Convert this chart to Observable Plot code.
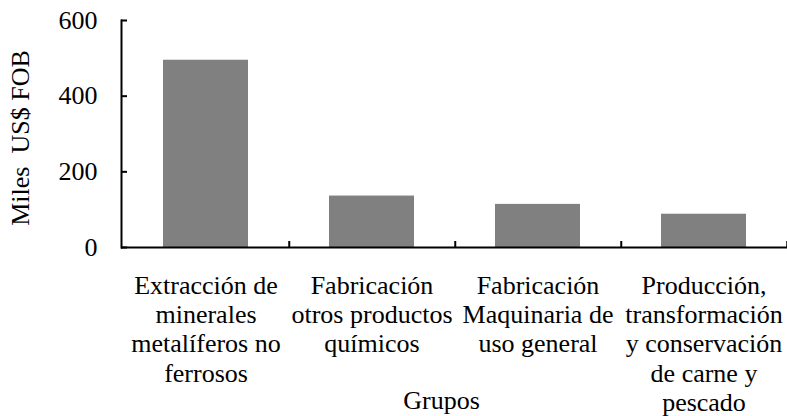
<!DOCTYPE html>
<html>
<head>
<meta charset="utf-8">
<script src="https://cdn.jsdelivr.net/npm/d3@7"></script>
<script src="https://cdn.jsdelivr.net/npm/@observablehq/plot@0.6"></script>
<style>
  html, body { margin: 0; padding: 0; background: #fff; overflow: hidden; }
</style>
</head>
<body>
<div id="chart"></div>
<script>
const categories = [
  "Extracción de minerales metalíferos no ferrosos",
  "Fabricación otros productos químicos",
  "Fabricación Maquinaria de uso general",
  "Producción, transformación y conservación de carne y pescado"
];
const tickLabels = [
  "Extracción de\nminerales\nmetalíferos no\nferrosos",
  "Fabricación\notros productos\nquímicos",
  "Fabricación\nMaquinaria de\nuso general",
  "Producción,\ntransformación\ny conservación\nde carne y\npescado"
];
const values = [495, 136, 114, 88];
const yTicks = [0, 200, 400, 600];
const yTitle = "Miles  US$ FOB";
const xTitle = "Grupos";

const data = categories.map((c, i) => ({group: c, value: values[i]}));

const chart = Plot.plot({
  width: 787,
  height: 416,
  marginTop: 20,
  marginBottom: 169,
  marginLeft: 121,
  marginRight: 0,
  style: {fontFamily: "'Liberation Serif', 'Times New Roman', serif", fontSize: "26px", color: "#000", background: "#fff"},
  x: {domain: categories, paddingInner: 0.49, paddingOuter: 0.245, axis: null},
  y: {domain: [0, 600], axis: null},
  marks: [
    Plot.barY(data, {x: "group", y: "value", fill: "#808080"}),
    Plot.ruleY([0], {stroke: "#000", strokeWidth: 2}),
    Plot.frame({anchor: "left", stroke: "#000", strokeWidth: 2}),
    // y tick labels
    Plot.axisY({ticks: yTicks, tickSize: 0, tickPadding: 24, label: null, fill: "#000"}),
    // inward y ticks
    Plot.axisY({ticks: yTicks, tickSize: 6, dx: 6, tickFormat: () => "", label: null, stroke: "#000", strokeWidth: 2}),
    // x tick labels
    Plot.axisX({tickSize: 0, tickPadding: 26, lineHeight: 1.12, tickFormat: d => tickLabels[categories.indexOf(d)], label: null, fill: "#000"}),
    // boundary ticks (between groups), pointing up
    Plot.axisX({tickSize: 6, dx: 666 / 8, dy: -6, tickFormat: () => "", label: null, stroke: "#000", strokeWidth: 2}),
    Plot.text([yTitle], {frameAnchor: "left", textAnchor: "middle", rotate: -90, dx: -101, dy: 4, fill: "#000"}),
    Plot.text([xTitle], {frameAnchor: "bottom", dx: -13, dy: 161, fill: "#000"})
  ]
});
document.getElementById("chart").appendChild(chart);
</script>
</body>
</html>
